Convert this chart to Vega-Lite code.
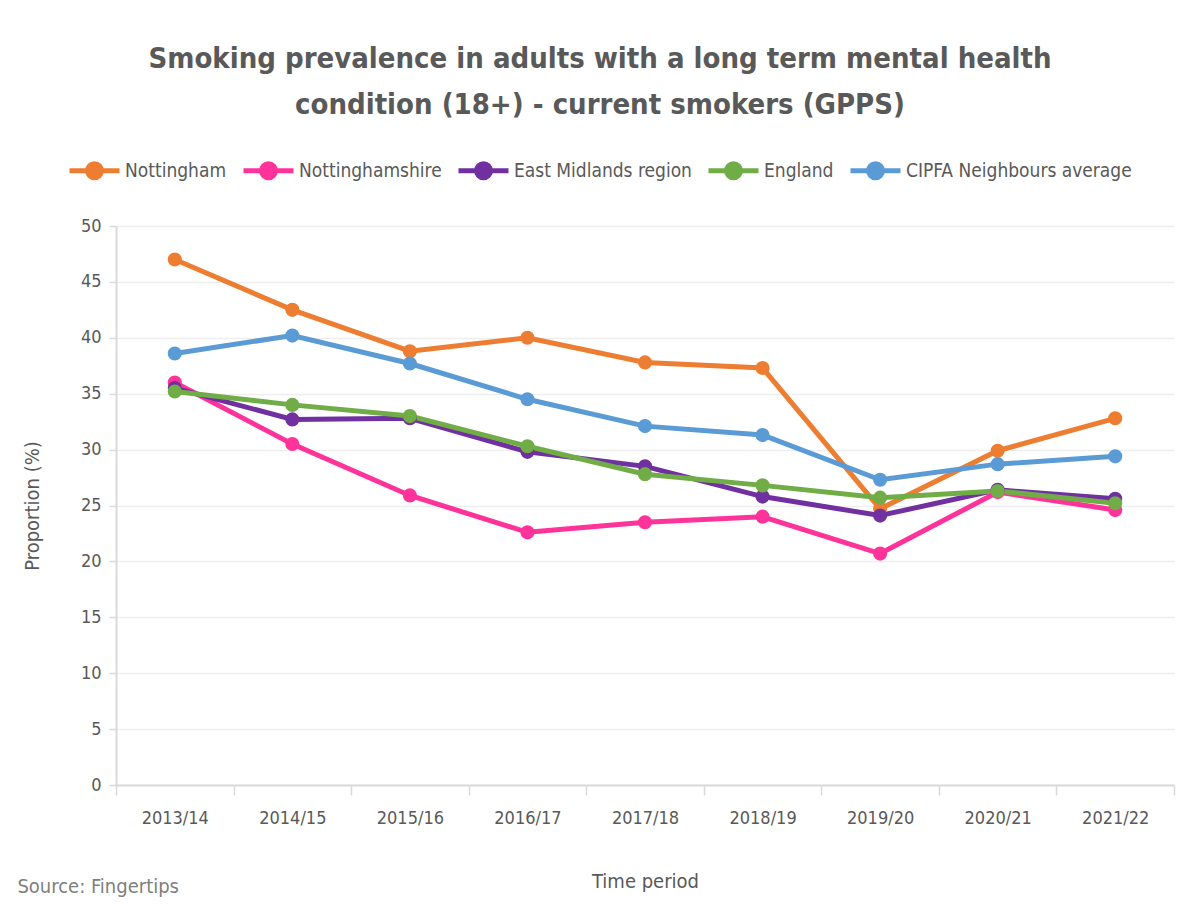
{
  "$schema": "https://vega.github.io/schema/vega-lite/v6.json",
  "padding": {"left": 17, "top": 45, "right": 16, "bottom": 10},
  "background": "white",
  "config": {
    "font": "DejaVu Sans Condensed, Liberation Sans",
    "view": {"stroke": null},
    "title": {"color": "#595959", "font": "DejaVu Sans Condensed, Liberation Sans"}
  },
  "title": {
    "text": "Source: Fingertips",
    "orient": "bottom",
    "anchor": "start",
    "frame": "bounds",
    "fontSize": 20,
    "fontWeight": "normal",
    "color": "#7f7f7f",
    "offset": -14,
    "dx": -5
  },
  "data": {
    "values": [
      {"period": "2013/14", "series": "Nottingham", "value": 47.0},
      {"period": "2014/15", "series": "Nottingham", "value": 42.5},
      {"period": "2015/16", "series": "Nottingham", "value": 38.8},
      {"period": "2016/17", "series": "Nottingham", "value": 40.0},
      {"period": "2017/18", "series": "Nottingham", "value": 37.8},
      {"period": "2018/19", "series": "Nottingham", "value": 37.3},
      {"period": "2019/20", "series": "Nottingham", "value": 24.7},
      {"period": "2020/21", "series": "Nottingham", "value": 29.9},
      {"period": "2021/22", "series": "Nottingham", "value": 32.8},
      {"period": "2013/14", "series": "Nottinghamshire", "value": 36.0},
      {"period": "2014/15", "series": "Nottinghamshire", "value": 30.5},
      {"period": "2015/16", "series": "Nottinghamshire", "value": 25.9},
      {"period": "2016/17", "series": "Nottinghamshire", "value": 22.6},
      {"period": "2017/18", "series": "Nottinghamshire", "value": 23.5},
      {"period": "2018/19", "series": "Nottinghamshire", "value": 24.0},
      {"period": "2019/20", "series": "Nottinghamshire", "value": 20.7},
      {"period": "2020/21", "series": "Nottinghamshire", "value": 26.2},
      {"period": "2021/22", "series": "Nottinghamshire", "value": 24.6},
      {"period": "2013/14", "series": "East Midlands region", "value": 35.5},
      {"period": "2014/15", "series": "East Midlands region", "value": 32.7},
      {"period": "2015/16", "series": "East Midlands region", "value": 32.8},
      {"period": "2016/17", "series": "East Midlands region", "value": 29.8},
      {"period": "2017/18", "series": "East Midlands region", "value": 28.5},
      {"period": "2018/19", "series": "East Midlands region", "value": 25.8},
      {"period": "2019/20", "series": "East Midlands region", "value": 24.1},
      {"period": "2020/21", "series": "East Midlands region", "value": 26.4},
      {"period": "2021/22", "series": "East Midlands region", "value": 25.6},
      {"period": "2013/14", "series": "England", "value": 35.2},
      {"period": "2014/15", "series": "England", "value": 34.0},
      {"period": "2015/16", "series": "England", "value": 33.0},
      {"period": "2016/17", "series": "England", "value": 30.3},
      {"period": "2017/18", "series": "England", "value": 27.8},
      {"period": "2018/19", "series": "England", "value": 26.8},
      {"period": "2019/20", "series": "England", "value": 25.7},
      {"period": "2020/21", "series": "England", "value": 26.3},
      {"period": "2021/22", "series": "England", "value": 25.2},
      {"period": "2013/14", "series": "CIPFA Neighbours average", "value": 38.6},
      {"period": "2014/15", "series": "CIPFA Neighbours average", "value": 40.2},
      {"period": "2015/16", "series": "CIPFA Neighbours average", "value": 37.7},
      {"period": "2016/17", "series": "CIPFA Neighbours average", "value": 34.5},
      {"period": "2017/18", "series": "CIPFA Neighbours average", "value": 32.1},
      {"period": "2018/19", "series": "CIPFA Neighbours average", "value": 31.3},
      {"period": "2019/20", "series": "CIPFA Neighbours average", "value": 27.3},
      {"period": "2020/21", "series": "CIPFA Neighbours average", "value": 28.7},
      {"period": "2021/22", "series": "CIPFA Neighbours average", "value": 29.4}
    ]
  },
  "vconcat": [
    {
      "width": 1058,
      "height": 559,
      "title": {
        "text": ["Smoking prevalence in adults with a long term mental health", "condition (18+) - current smokers (GPPS)"],
        "anchor": "middle",
        "frame": "group",
        "fontSize": 29,
        "fontWeight": "bold",
        "lineHeight": 46,
        "dx": -45,
        "offset": 97
      },
      "encoding": {
        "x": {
          "field": "period",
          "type": "ordinal",
          "scale": {"type": "band", "paddingInner": 0, "paddingOuter": 0},
          "axis": {
            "title": "Time period",
            "titleFontSize": 20,
            "titleFontWeight": "normal",
            "titleColor": "#595959",
            "titlePadding": 44,
            "labelAngle": 0,
            "labelFontSize": 18,
            "labelColor": "#595959",
            "labelPadding": 14,
            "tickBand": "extent",
            "tickSize": 10,
            "tickColor": "#d9d9d9",
            "tickWidth": 1.5,
            "domainColor": "#d9d9d9",
            "domainWidth": 2,
            "grid": false
          }
        },
        "y": {
          "field": "value",
          "type": "quantitative",
          "scale": {"domain": [0, 50], "nice": false},
          "axis": {
            "values": [0, 5, 10, 15, 20, 25, 30, 35, 40, 45, 50],
            "title": "Proportion (%)",
            "titleFontSize": 20,
            "titleFontWeight": "normal",
            "titleColor": "#595959",
            "titlePadding": 38,
            "labelFontSize": 18,
            "labelColor": "#595959",
            "labelPadding": 8,
            "tickSize": 7,
            "tickColor": "#d9d9d9",
            "tickWidth": 1.5,
            "domainColor": "#d9d9d9",
            "domainWidth": 2,
            "gridColor": "#eeeeee",
            "gridWidth": 1.5
          }
        },
        "color": {
          "field": "series",
          "type": "nominal",
          "scale": {
            "domain": ["Nottingham", "Nottinghamshire", "East Midlands region", "England", "CIPFA Neighbours average"],
            "range": ["#ED7D31", "#FF3399", "#7030A0", "#70AD47", "#5B9BD5"]
          },
          "legend": {
            "title": null,
            "orient": "none",
            "direction": "horizontal",
            "columns": 5,
            "legendX": -49,
            "legendY": -83,
            "labelFontSize": 19,
            "labelColor": "#595959",
            "labelLimit": 0,
            "labelOffset": 3,
            "columnPadding": 6,
            "symbolType": "M-1,0L1,0M-0.28,0A0.28,0.28,0,1,1,0.28,0A0.28,0.28,0,1,1,-0.28,0Z",
            "symbolSize": 2500,
            "symbolStrokeWidth": 5
          }
        }
      },
      "layer": [
        {"mark": {"type": "line", "strokeWidth": 5}},
        {"mark": {"type": "point", "filled": true, "size": 200, "opacity": 1}}
      ]
    }
  ]
}
